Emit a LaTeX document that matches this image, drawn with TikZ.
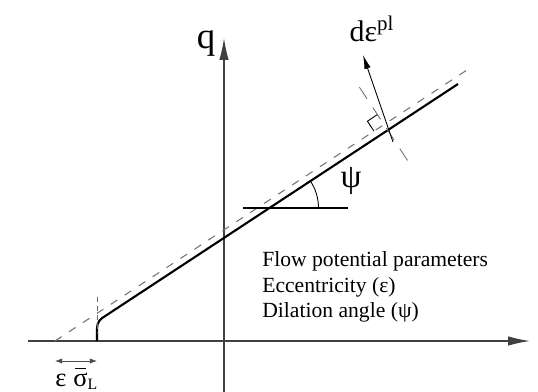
\documentclass[tikz,border=0pt]{standalone}
\usepackage{fontspec}
\setmainfont{Liberation Serif}
\usetikzlibrary{arrows.meta}

\begin{document}
\begin{tikzpicture}[x=0.02cm,y=-0.02cm,
	axis/.style={line width=0.7pt,black!75,-{Latex[length=0.44cm,width=0.19cm]}},
	asym/.style={line width=0.6pt,black!55,dash pattern=on 4.5pt off 5pt},
	centre/.style={line width=0.5pt,black!55,dash pattern=on 8pt off 6pt},
	lbl/.style={inner sep=0pt,font=\fontsize{15}{18}\selectfont},
	txt/.style={inner sep=0pt,anchor=base west,font=\fontsize{12.3}{15}\selectfont}]
\useasboundingbox (0,0) rectangle (538,392);

	% axes
	\coordinate (xs) at (28,341);
	\coordinate (xe) at (530,341);
	\coordinate (ys) at (224,392);
	\coordinate (ye) at (224,38);
	\draw[axis] (xs) -- (xe);
	\draw[axis] (ys) -- (ye);
	\node[lbl,font=\fontsize{21}{24}\selectfont] (q) at (206,44) {q};

	% asymptote and flow potential
	\coordinate (a0) at (55,341);
	\coordinate (a1) at (470,68);
	\draw[asym] (a0) -- (a1);
	\draw[line width=1.2pt] (97,341) -- (97,329) .. controls (97,322) and (100,319) .. (106,315.5) -- (458,84);
	\draw[black!60,line width=0.5pt,dash pattern=on 3pt off 2pt] (97,297) -- (97,333);

	% angle psi
	\coordinate (c) at (269.5,208);
	\draw[line width=0.6pt] (243,208) -- (348,208);
	\draw[line width=0.5pt] (c) ++(49,0) arc[start angle=0,end angle=-33.3,radius=49];
	\node[lbl,font=\fontsize{19}{22}\selectfont] (psi) at (351,181) {ψ};

	% plastic flow direction
	\coordinate (p) at (384,124.6);
	\draw[centre] (359.3,87) -- (408.7,162.2);
	\draw[line width=0.5pt] (374,131.2) -- (367.4,121.2) -- (377.4,114.6);
	\draw[line width=0.5pt,-{Latex[length=0.28cm,width=0.13cm]}] (393,142) -- (363,55);
	\node[lbl,font=\fontsize{17}{19}\selectfont] (deps) at (372,29) {dε\textsuperscript{pl}};

	% text
	\node[txt] (flow) at (262,266) {Flow potential parameters};
	\node[txt] (ecc) at (262,292) {Eccentricity (ε)};
	\node[txt] (dil) at (262,317) {Dilation angle (ψ)};

	% eccentricity length
	\coordinate (e0) at (55,361);
	\coordinate (e1) at (97,361);
	\draw[line width=0.5pt,black!70,{Latex[length=4pt,width=3pt]}-{Latex[length=4pt,width=3pt]}] (e0) -- (e1);
	\node[lbl,anchor=base west] (ecclen) at (55,386) {ε\hspace{4pt}σ\textsubscript{\fontsize{9}{11}\selectfont L}};
	\draw[line width=0.7pt] (75,368.5) -- (86,368.5);
\end{tikzpicture}
\end{document}
